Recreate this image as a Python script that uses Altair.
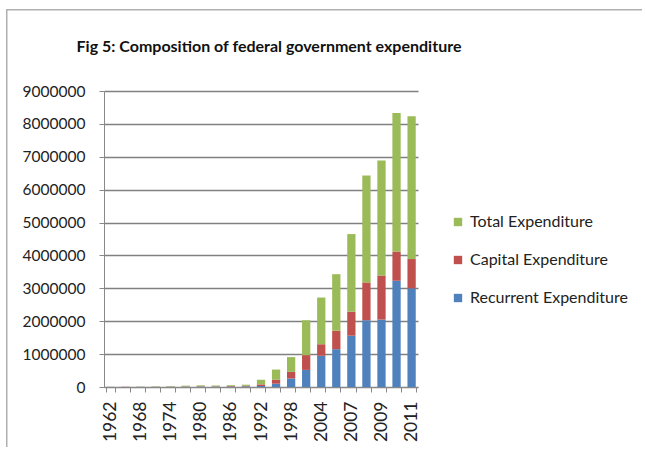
import altair as alt
import pandas as pd

years = ["1962", "1965", "1968", "1971", "1974", "1977", "1980", "1983", "1986", "1989",
         "1992", "1995", "1998", "2001", "2004", "2005", "2007", "2008", "2009", "2010", "2011"]
shown_labels = ["1962", "1968", "1974", "1980", "1986", "1992", "1998", "2004", "2007", "2009", "2011"]

recurrent = [2000, 3000, 4000, 6000, 8000, 12000, 15000, 15000, 18000, 20000,
             30000, 100000, 260000, 520000, 950000, 1150000, 1560000, 2030000, 2050000, 3230000, 3000000]
capital = [1000, 1000, 2000, 3000, 5000, 8000, 10000, 8000, 10000, 15000,
           50000, 120000, 200000, 450000, 350000, 560000, 730000, 1150000, 1340000, 890000, 890000]
total = [3000, 4000, 6000, 9000, 13000, 20000, 25000, 23000, 28000, 35000,
         140000, 310000, 450000, 1060000, 1420000, 1720000, 2360000, 3250000, 3500000, 4210000, 4340000]

series = ["Total Expenditure", "Capital Expenditure", "Recurrent Expenditure"]
colors = ["#9BBB59", "#C0504D", "#4F81BD"]
y_ticks = [0, 1000000, 2000000, 3000000, 4000000, 5000000, 6000000, 7000000, 8000000, 9000000]

rows = []
for i, yr in enumerate(years):
    rows.append({"year": yr, "series": "Recurrent Expenditure", "value": recurrent[i], "ord": 0})
    rows.append({"year": yr, "series": "Capital Expenditure", "value": capital[i], "ord": 1})
    rows.append({"year": yr, "series": "Total Expenditure", "value": total[i], "ord": 2})
df = pd.DataFrame(rows)

FONT = "Lato"
label_list = "[" + ",".join("'" + s + "'" for s in shown_labels) + "]"

bars = alt.Chart(df).mark_bar().encode(
    x=alt.X("year:N", sort=years,
            scale=alt.Scale(paddingInner=0.45, paddingOuter=0.15),
            axis=alt.Axis(title=None, labelAngle=-90, labelFontSize=17.5, labelFont=FONT,
                          labelColor="#222", labelPadding=9,
                          labelExpr="indexof(" + label_list + ", datum.label) >= 0 ? datum.label : ''",
                          tickBand="extent", tickSize=5, tickColor="#888", domainColor="#888")),
    y=alt.Y("value:Q", stack="zero",
            scale=alt.Scale(domain=[0, 9000000], nice=False),
            axis=alt.Axis(title=None, values=y_ticks, format="d", labelFontSize=15.5, labelFont=FONT,
                          labelColor="#222", tickSize=5, tickColor="#888", domainColor="#888",
                          gridColor="#808080", gridWidth=1.3, labelPadding=14)),
    color=alt.Color("series:N", scale=alt.Scale(domain=series, range=colors),
                    legend=alt.Legend(title=None, orient="none", legendX=346, legendY=123,
                                      labelFont=FONT, labelFontSize=16, labelColor="#222",
                                      labelLimit=400,
                                      symbolType="square", symbolSize=70, symbolStrokeWidth=0,
                                      rowPadding=22, labelOffset=4)),
    order=alt.Order("ord:Q", sort="ascending"),
)

top_src = pd.DataFrame({"edge": ["top"]})
left_src = pd.DataFrame({"edge": ["left"]})
top_line = alt.Chart(top_src).mark_rect(fill="#b0b0b0", strokeWidth=0).encode(
    x=alt.value(-97), x2=alt.value(545), y=alt.value(-82), y2=alt.value(-80.5)
)
left_line = alt.Chart(left_src).mark_rect(fill="#b0b0b0", strokeWidth=0).encode(
    x=alt.value(-98), x2=alt.value(-96.5), y=alt.value(-82), y2=alt.value(365)
)

chart = alt.layer(top_line, left_line, bars).properties(
    width=314, height=296,
    autosize=alt.AutoSizeParams(type="none"),
    padding={"left": 104, "top": 91, "right": 224, "bottom": 60},
    title=alt.Title("Fig 5: Composition  of federal government expenditure",
                    font=FONT, fontSize=16, fontWeight="bold", color="#111",
                    anchor="middle", dx=8, offset=-46),
).configure_view(stroke=None).configure_axisX(grid=False)

chart.save("out.html", embed_options={"renderer": "svg", "actions": False})
